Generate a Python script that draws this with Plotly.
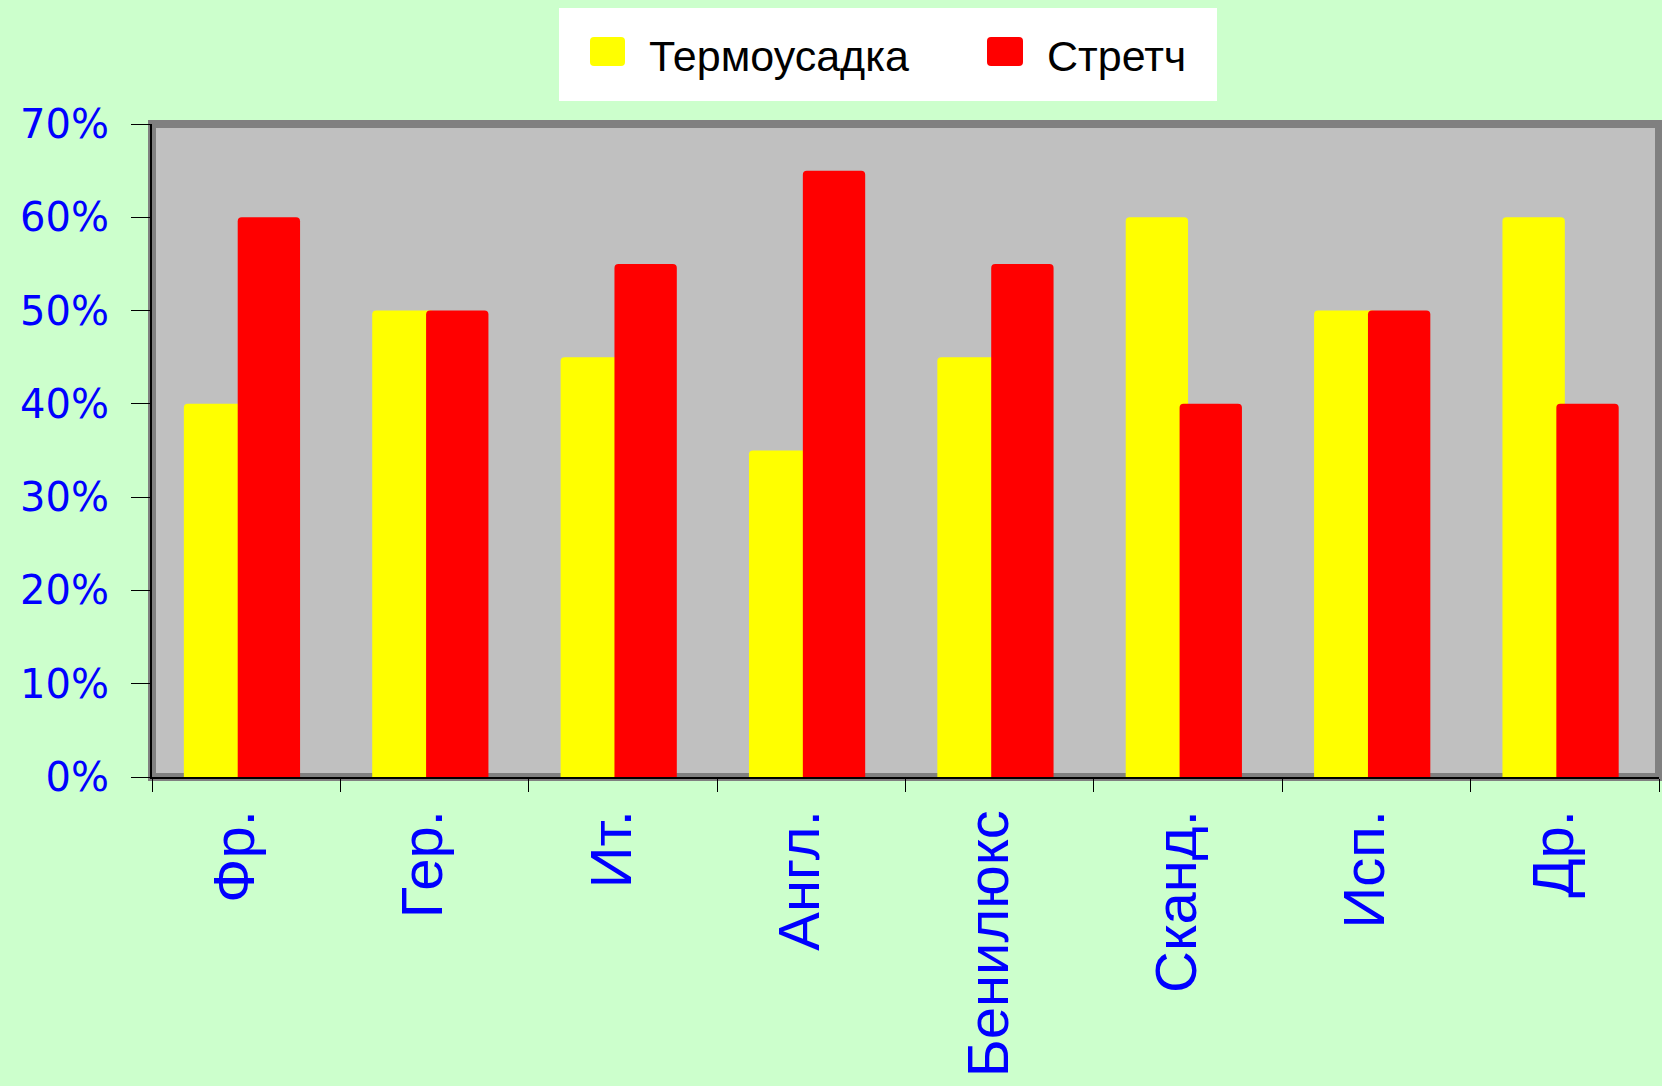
import plotly.graph_objects as go

# ---- data ----
categories = ["Фр.", "Гер.", "Ит.", "Англ.", "Бенилюкс", "Сканд.", "Исп.", "Др."]
termo = [0.40, 0.50, 0.45, 0.35, 0.45, 0.60, 0.50, 0.60]
stretch = [0.60, 0.50, 0.55, 0.65, 0.55, 0.40, 0.50, 0.40]
series_names = ["Термоусадка", "Стретч"]
y_ticks = [0.0, 0.1, 0.2, 0.3, 0.4, 0.5, 0.6, 0.7]

# ---- layout geometry (pixels) ----
W, H = 1662, 1086
L, R, T, B = 152, 3, 124, 309
PW, PH = W - L - R, H - T - B


def px(x):
    return (x - L) / PW


def py(y):
    return (H - B - y) / PH


YELLOW = "#FFFF00"
RED = "#FF0000"
BLUE = "#0000FF"

BAR_W = 0.331  # in category units; bars slightly overlap like the original

fig = go.Figure()
fig.add_trace(go.Bar(x=categories, y=termo, name=series_names[0],
                     width=BAR_W, offset=-0.331,
                     marker=dict(color=YELLOW, line=dict(width=0))))
fig.add_trace(go.Bar(x=categories, y=stretch, name=series_names[1],
                     width=BAR_W, offset=-0.045,
                     marker=dict(color=RED, line=dict(width=0))))


def rounded_rect(x0, y0, x1, y1, r):
    # pixel coords -> paper path with rounded corners
    X0, X1 = px(x0), px(x1)
    Y0, Y1 = py(y0), py(y1)  # Y0 top, Y1 bottom
    rx = r / PW
    ry = r / PH
    return (f"M {X0+rx},{Y0} L {X1-rx},{Y0} Q {X1},{Y0} {X1},{Y0-ry} "
            f"L {X1},{Y1+ry} Q {X1},{Y1} {X1-rx},{Y1} "
            f"L {X0+rx},{Y1} Q {X0},{Y1} {X0},{Y1+ry} "
            f"L {X0},{Y0-ry} Q {X0},{Y0} {X0+rx},{Y0} Z")


shapes = [
    # plot-area frame
    dict(type="rect", xref="paper", yref="paper", x0=0, x1=1, y0=0, y1=1,
         line=dict(color="#808080", width=8), fillcolor="rgba(0,0,0,0)", layer="below"),
    # legend box
    dict(type="rect", xref="paper", yref="paper", x0=px(559), x1=px(1217),
         y0=py(101), y1=py(8), line=dict(width=0), fillcolor="white", layer="above"),
    dict(type="path", xref="paper", yref="paper", path=rounded_rect(590, 37, 625, 66, 4),
         fillcolor=YELLOW, line=dict(width=0), layer="above"),
    dict(type="path", xref="paper", yref="paper", path=rounded_rect(987, 37, 1023, 66, 4),
         fillcolor=RED, line=dict(width=0), layer="above"),
]

annotations = [
    dict(xref="paper", yref="paper", x=px(647), y=py(56), text=series_names[0],
         showarrow=False, xanchor="left", yanchor="middle",
         font=dict(family="Liberation Sans", size=43, color="black")),
    dict(xref="paper", yref="paper", x=px(1045), y=py(56), text=series_names[1],
         showarrow=False, xanchor="left", yanchor="middle",
         font=dict(family="Liberation Sans", size=43, color="black")),
]

fig.update_layout(
    width=W, height=H,
    margin=dict(l=L, r=R, t=T, b=B, pad=0),
    paper_bgcolor="#CCFFCC",
    plot_bgcolor="#C0C0C0",
    barmode="overlay",
    barcornerradius=4,
    showlegend=False,
    shapes=shapes,
    annotations=annotations,
    xaxis=dict(
        type="category",
        tickson="boundaries",
        ticks="outside", ticklen=13, tickwidth=1, tickcolor="black",
        showline=True, linecolor="black", linewidth=2,
        showgrid=False, zeroline=False,
        tickangle=-90,
        tickfont=dict(family="Liberation Sans", size=58, color=BLUE),
        ticklabelstandoff=8,
        ticklabelshift=-11,
        automargin=False,
    ),
    yaxis=dict(
        range=[0, 0.7],
        tickvals=y_ticks,
        tickformat=".0%",
        ticks="outside", ticklen=19, tickwidth=1, tickcolor="black",
        showline=True, linecolor="black", linewidth=2,
        showgrid=False, zeroline=False,
        tickfont=dict(family="DejaVu Sans", size=40, color=BLUE),
        ticklabelstandoff=14,
        automargin=False,
    ),
)

fig.write_html("out.html",
               config={"displayModeBar": False},
               post_script="document.body.style.margin='0';document.body.style.padding='0';")
